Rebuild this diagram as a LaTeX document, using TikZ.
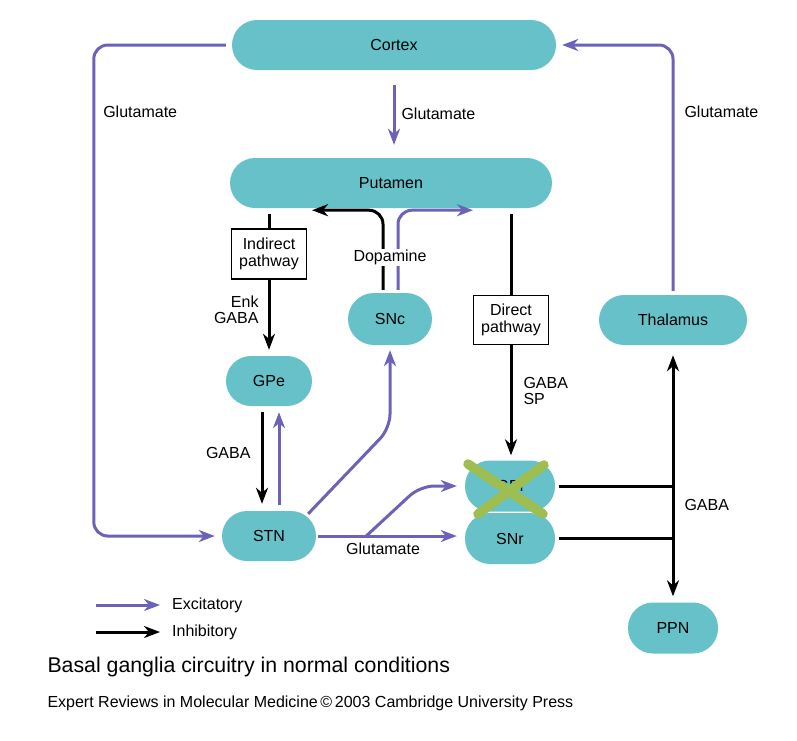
\documentclass[tikz,border=0pt]{standalone}
\usepackage{fontspec}
\setmainfont{Liberation Sans}
\usetikzlibrary{arrows.meta,positioning}
\definecolor{nucteal}{RGB}{102,193,200}
\definecolor{excpurple}{RGB}{108,98,184}
\definecolor{crossgreen}{RGB}{158,190,82}
\tikzset{
	>={Stealth[length=16pt,width=12pt,inset=5pt]},
	nucleus/.style={
		rectangle,
		rounded corners=25pt,
		fill=nucteal,
		minimum height=50pt,
		inner sep=0pt,
		font=\fontsize{16}{19}\selectfont},
	pathbox/.style={
		rectangle,
		draw=black, line width=1.5pt,
		fill=white,
		align=center,
		minimum width=75pt,
		minimum height=50pt,
		inner sep=2pt,
		font=\fontsize{16}{17}\selectfont},
	excit/.style={draw=excpurple, line width=3pt, rounded corners=14pt},
	inhib/.style={draw=black, line width=3pt, rounded corners=14pt},
	tag/.style={font=\fontsize{16}{16}\selectfont, inner sep=2pt, align=left},
	greencross/.style={draw=crossgreen, line width=9.5pt, line cap=round},
}

\begin{document}
\begin{tikzpicture}[x=1pt,y=-1pt]
	\useasboundingbox (0,0) rectangle (797,740);
	% nuclei
	\node[nucleus, minimum width=324pt] (cortex) at (394,45) {Cortex};
	\node[nucleus, minimum width=322pt] (putamen) at (391,183) {Putamen};
	\node[nucleus, minimum width=84pt, minimum height=52pt, rounded corners=26pt] (snc) at (390,319) {SNc};
	\node[nucleus, minimum width=86pt] (gpe) at (269,381) {GPe};
	\node[nucleus, minimum width=94pt] (stn) at (269,536) {STN};
	\node[nucleus, minimum width=148pt] (thalamus) at (673,320) {Thalamus};
	\node[nucleus, minimum width=90pt, minimum height=51pt] (ppn) at (673,628) {PPN};
	\node[nucleus, minimum width=90pt, minimum height=51pt, rounded corners=25pt] (gpi) at (510,486) {GPi};
	\node[nucleus, minimum width=90pt, minimum height=51pt, rounded corners=25pt] (snr) at (510,538.5) {SNr};
	\node[pathbox] (indirect) at (269,254) {Indirect\\pathway};
	\node[pathbox, minimum height=49pt] (direct) at (511,320) {Direct\\pathway};

	% cortical loop
	\draw[excit,->,shorten <=15pt,shorten >=13pt] (cortex.south) -- node[tag, right=4pt]{Glutamate} (cortex.south |- putamen.north);
	\draw[excit,->,shorten <=6pt,shorten >=7pt] (cortex.west) -- ++(-138,0) |- node[tag, pos=0.068, right=6pt]{Glutamate} (stn.west);
	\draw[excit,->,shorten <=4pt,shorten >=6pt] (thalamus.north) |- node[tag, pos=0.366, right=8pt]{Glutamate} (cortex.east);

	% striatal output
	\draw[inhib,shorten <=6pt] (indirect |- putamen.south) -- (indirect.north);
	\draw[inhib,->,shorten >=6pt] (indirect.south) -- node[tag, pos=0.4, left=7pt, align=right]{Enk\\GABA} (indirect.south |- gpe.north);
	\draw[inhib,shorten <=6pt] (direct |- putamen.south) -- (direct.north);
	\draw[inhib,->,shorten >=5pt] (direct.south) -- node[tag, pos=0.4, right=9pt]{GABA\\SP} (direct.south |- gpi.north);

	% dopamine
	\draw[inhib,->,shorten <=3pt] ([xshift=-7pt]snc.north) |- ([xshift=-79pt,yshift=-2pt]putamen.south);
	\draw[excit,->,shorten <=3pt] ([xshift=8pt]snc.north) |- ([xshift=82pt,yshift=-2pt]putamen.south);
	\node[tag, fill=white, inner sep=1pt] (dopamine) at ([yshift=35pt]snc.north) {Dopamine};

	% GPe / STN
	\draw[inhib,->,shorten <=6pt,shorten >=7pt] ([xshift=-7pt]gpe.south) -- node[tag, pos=0.45, left=8pt]{GABA} ([xshift=-7pt]gpe.south |- stn.north);
	\draw[excit,->,shorten <=6pt,shorten >=6pt] ([xshift=10pt]stn.north) -- ([xshift=10pt]stn.north |- gpe.south);
	\draw[excit,->,shorten >=5pt] ([xshift=-8pt,yshift=-3pt]stn.north east) -- ([yshift=-83pt]snc.south) -- (snc.south);
	\draw[excit,->,shorten <=2pt,shorten >=8pt] (stn.east) -- node[tag, pos=0.45, below=3pt]{Glutamate} (stn.east -| snr.west);
	\draw[excit,->,shorten >=8pt] ([xshift=50pt]stn.east) -- ([xshift=104pt]stn.east |- gpi.west) -- (gpi.west);

	% output nuclei
	\draw[inhib] ([xshift=4pt]gpi.east) -- (gpi.east -| thalamus.south);
	\draw[inhib] ([xshift=4pt]snr.east) -- (snr.east -| thalamus.south);
	\draw[inhib,<->,shorten <=10pt,shorten >=6pt] (thalamus.south) -- node[tag, pos=0.62, right=8pt]{GABA} (ppn.north);

	% lesion mark
	\draw[greencross] ([shift={(-42,-22)}]gpi.center) -- ([shift={(33,28)}]gpi.center);
	\draw[greencross] ([shift={(34,-21)}]gpi.center) -- ([shift={(-32,28)}]gpi.center);

	% key
	\node[tag, anchor=west] (exclbl) at (170,605) {Excitatory};
	\node[tag, anchor=west] (inhlbl) at ([yshift=-27pt]exclbl.west) {Inhibitory};
	\draw[excit,->] ([xshift=-74pt]exclbl.west) -- ([xshift=-10pt]exclbl.west);
	\draw[inhib,->] ([xshift=-74pt]inhlbl.west) -- ([xshift=-10pt]inhlbl.west);

	\node[anchor=west, font=\fontsize{21.3}{25}\selectfont] (caption) at (44,667) {Basal ganglia circuitry in normal conditions};
	\node[anchor=west, font=\fontsize{16}{19}\selectfont] (credit) at (44,703) {Expert Reviews in Molecular Medicine\,©\,2003 Cambridge University Press};
\end{tikzpicture}
\end{document}
